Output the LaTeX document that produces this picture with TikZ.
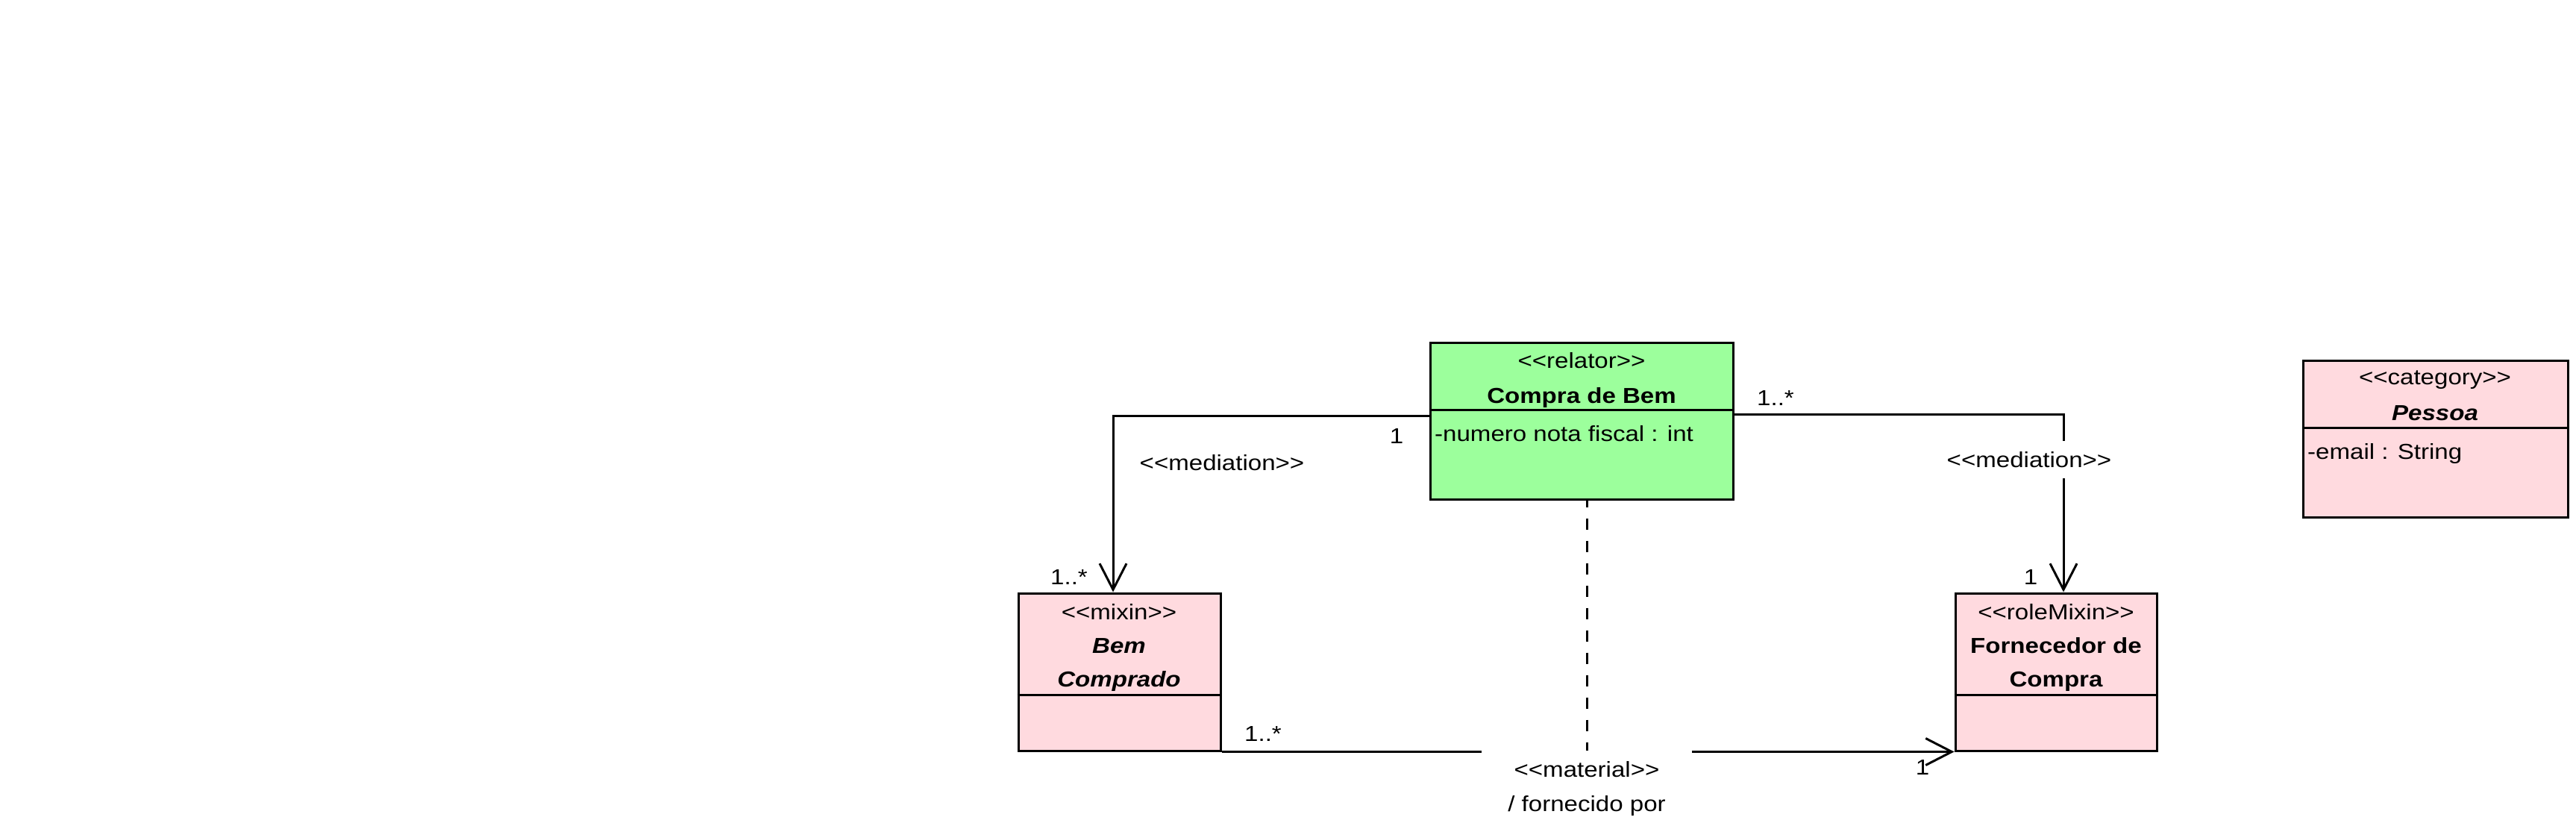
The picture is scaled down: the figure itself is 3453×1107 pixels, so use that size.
\documentclass[tikz,border=0pt]{standalone}
\usepackage{fontspec}
\newfontfamily\umlfont{Liberation Sans}[FakeStretch=1.14]
\usetikzlibrary{arrows.meta}
\definecolor{relgreen}{HTML}{9CFF9C}
\definecolor{mixpink}{HTML}{FFDADF}
\begin{document}
\begin{tikzpicture}[x=1pt,y=-1pt,
  classbox/.style={draw,line width=3pt,rectangle,inner sep=0pt},
  txt/.style={inner sep=0pt,anchor=base,font=\umlfont\fontsize{29}{35}\selectfont},
  bold/.style={txt,font=\umlfont\fontsize{29}{35}\selectfont\bfseries},
  bolditalic/.style={txt,font=\umlfont\fontsize{29}{35}\selectfont\bfseries\itshape},
  attr/.style={txt,anchor=base west},
  lbl/.style={txt},
  assoc/.style={line width=3pt},
  opentip/.style={-{Straight Barb[length=35pt,width=36pt]}}
]
\useasboundingbox (0,0) rectangle (3453,1107);

% classes
\node[classbox,fill=relgreen,minimum width=406pt,minimum height=210pt] (compra) at (2120,564) {};
\draw[line width=3pt] (compra.west |- 0,549) -- (compra.east |- 0,549);
\node[txt] (compraSt) at (2120,493) {<<relator>>};
\node[bold] (compraNm) at (2120,540) {Compra de Bem};
\node[attr] (compraAt) at (1923,591) {-numero nota fiscal : int};

\node[classbox,fill=mixpink,minimum width=271pt,minimum height=211pt] (bemc) at (1500.5,900.5) {};
\draw[line width=3pt] (bemc.west |- 0,931) -- (bemc.east |- 0,931);
\node[txt] (bemcSt) at (1500,830) {<<mixin>>};
\node[bolditalic] (bemcNm1) at (1500,875) {Bem};
\node[bolditalic] (bemcNm2) at (1500,920) {Comprado};

\node[classbox,fill=mixpink,minimum width=270pt,minimum height=211pt] (forn) at (2756,900.5) {};
\draw[line width=3pt] (forn.west |- 0,931) -- (forn.east |- 0,931);
\node[txt] (fornSt) at (2756,830) {<<roleMixin>>};
\node[bold] (fornNm1) at (2756,875) {Fornecedor de};
\node[bold] (fornNm2) at (2756,920) {Compra};

\node[classbox,fill=mixpink,minimum width=355pt,minimum height=210pt] (pessoa) at (3264.5,588) {};
\draw[line width=3pt] (pessoa.west |- 0,573) -- (pessoa.east |- 0,573);
\node[txt] (pessoaSt) at (3264,515) {<<category>>};
\node[bolditalic] (pessoaNm) at (3264,563) {Pessoa};
\node[attr] (pessoaAt) at (3093,615) {-email : String};

% left mediation
\coordinate (lmv) at (1492,557);
\draw[assoc,opentip] (compra.west |- lmv) -| (lmv |- bemc.north);
\node[lbl] (lmLbl) at (1638,630) {<<mediation>>};
\node[lbl] (lmM1) at (1872,594) {1};
\node[lbl] (lmM2) at (1433,783) {1..*};

% right mediation
\coordinate (rmv) at (2766,555);
\draw[assoc,opentip] (compra.east |- rmv) -| (rmv |- forn.north);
\node[inner sep=0pt,fill=white,minimum height=50pt,font=\umlfont\fontsize{29}{35}\selectfont] (rmLbl) at (2720,616) {<<mediation>>};
\node[lbl] (rmM1) at (2380,543) {1..*};
\node[lbl] (rmM2) at (2722,783) {1};

% material
\draw[assoc,opentip] (bemc.south east) -- (forn.south west);
\node[fill=white,anchor=north,minimum width=282pt,inner xsep=0pt,inner ysep=15pt,align=center,
      font=\umlfont\fontsize{29}{46}\selectfont] (matLbl) at (2127,1005.5) {<<material>>\\/ fornecido por};
\node[lbl] (matM1) at (1693,993) {1..*};
\node[lbl] (matM2) at (2577,1038) {1};
\draw[line width=3pt,dash pattern=on 15pt off 15pt,dash phase=6pt] (compra.south -| matLbl.north) -- (matLbl.north);
\end{tikzpicture}
\end{document}
